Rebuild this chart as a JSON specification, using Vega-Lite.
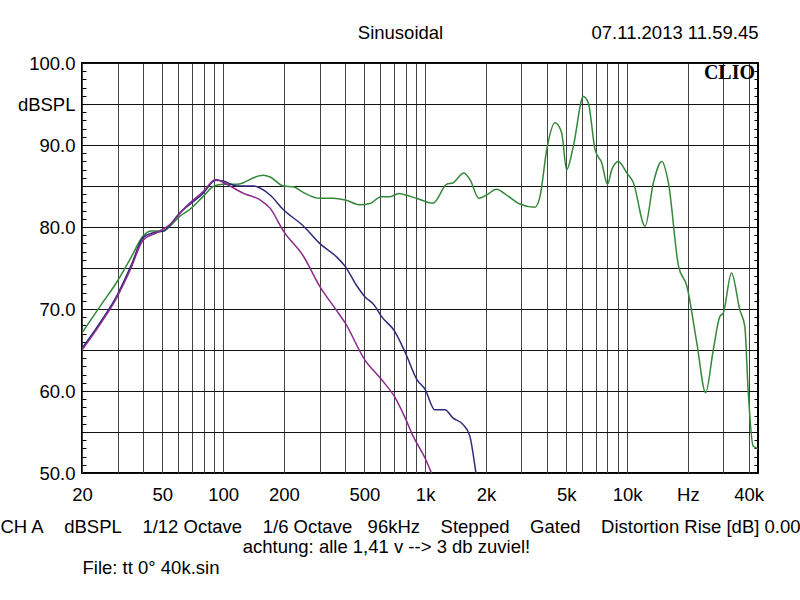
{
  "$schema": "https://vega.github.io/schema/vega-lite/v6.json",
  "width": 676,
  "height": 410,
  "autosize": "none",
  "padding": {"left": 82, "top": 63, "right": 42, "bottom": 127},
  "background": "white",
  "config": {
    "view": {"stroke": "#000", "strokeWidth": 2},
    "font": "Liberation Sans"
  },
  "layer": [
    {
      "data": {"values": [
        {"s": "g", "f": 20, "db": 67.1}, {"s": "g", "f": 25, "db": 70.6}, {"s": "g", "f": 29.6, "db": 73.2}, {"s": "g", "f": 35, "db": 76.3},
        {"s": "g", "f": 40.1, "db": 78.9}, {"s": "g", "f": 44.2, "db": 79.5}, {"s": "g", "f": 50.5, "db": 79.5}, {"s": "g", "f": 54.5, "db": 80.1},
        {"s": "g", "f": 60.9, "db": 81.3}, {"s": "g", "f": 68, "db": 82.1}, {"s": "g", "f": 79.4, "db": 83.7}, {"s": "g", "f": 90.3, "db": 85.0},
        {"s": "g", "f": 99.8, "db": 85.2}, {"s": "g", "f": 116.9, "db": 85.2}, {"s": "g", "f": 126.1, "db": 85.4}, {"s": "g", "f": 141.3, "db": 86.0},
        {"s": "g", "f": 158, "db": 86.3}, {"s": "g", "f": 170.7, "db": 86.1}, {"s": "g", "f": 198.9, "db": 85.0}, {"s": "g", "f": 222.7, "db": 84.9},
        {"s": "g", "f": 250.2, "db": 84.2}, {"s": "g", "f": 300.3, "db": 83.5}, {"s": "g", "f": 349.1, "db": 83.5}, {"s": "g", "f": 401.8, "db": 83.3},
        {"s": "g", "f": 477.2, "db": 82.7}, {"s": "g", "f": 537.3, "db": 82.9}, {"s": "g", "f": 605, "db": 83.7}, {"s": "g", "f": 671.5, "db": 83.7},
        {"s": "g", "f": 740.9, "db": 84.1}, {"s": "g", "f": 800, "db": 83.9}, {"s": "g", "f": 906, "db": 83.5}, {"s": "g", "f": 1096, "db": 82.9},
        {"s": "g", "f": 1276, "db": 85.2}, {"s": "g", "f": 1377, "db": 85.4}, {"s": "g", "f": 1555, "db": 86.6}, {"s": "g", "f": 1666, "db": 85.8},
        {"s": "g", "f": 1847, "db": 83.5}, {"s": "g", "f": 2014, "db": 83.9}, {"s": "g", "f": 2258, "db": 84.6}, {"s": "g", "f": 2531, "db": 83.9},
        {"s": "g", "f": 2947, "db": 82.8}, {"s": "g", "f": 3495, "db": 82.4}, {"s": "g", "f": 3706, "db": 83.7}, {"s": "g", "f": 4000, "db": 89.4},
        {"s": "g", "f": 4393, "db": 92.7}, {"s": "g", "f": 4742, "db": 91.5}, {"s": "g", "f": 5022, "db": 87.0}, {"s": "g", "f": 5416, "db": 89.8},
        {"s": "g", "f": 6078, "db": 95.9}, {"s": "g", "f": 6434, "db": 95.1}, {"s": "g", "f": 6946, "db": 89.4}, {"s": "g", "f": 7495, "db": 87.8},
        {"s": "g", "f": 8000, "db": 85.2}, {"s": "g", "f": 8402, "db": 87.0}, {"s": "g", "f": 9061, "db": 88.0}, {"s": "g", "f": 9965, "db": 86.6},
        {"s": "g", "f": 10749, "db": 85.4}, {"s": "g", "f": 12279, "db": 80.1}, {"s": "g", "f": 13500, "db": 85.4}, {"s": "g", "f": 14850, "db": 88.0},
        {"s": "g", "f": 16020, "db": 85.4}, {"s": "g", "f": 17990, "db": 75.2}, {"s": "g", "f": 19770, "db": 72.8}, {"s": "g", "f": 22140, "db": 65.9},
        {"s": "g", "f": 24500, "db": 59.8}, {"s": "g", "f": 26720, "db": 65.0}, {"s": "g", "f": 28830, "db": 69.1}, {"s": "g", "f": 29940, "db": 69.5},
        {"s": "g", "f": 32900, "db": 74.4}, {"s": "g", "f": 36160, "db": 69.9}, {"s": "g", "f": 38270, "db": 67.9}, {"s": "g", "f": 39750, "db": 60.2},
        {"s": "g", "f": 42070, "db": 53.3}, {"s": "g", "f": 44500, "db": 53.0},

        {"s": "n", "f": 20, "db": 65.2}, {"s": "n", "f": 25, "db": 68.6}, {"s": "n", "f": 29.6, "db": 71.5}, {"s": "n", "f": 35, "db": 75.3},
        {"s": "n", "f": 40.1, "db": 78.7}, {"s": "n", "f": 45, "db": 79.3}, {"s": "n", "f": 50.5, "db": 79.5}, {"s": "n", "f": 60.9, "db": 81.7},
        {"s": "n", "f": 79.4, "db": 84.1}, {"s": "n", "f": 92, "db": 85.7}, {"s": "n", "f": 99.8, "db": 85.6}, {"s": "n", "f": 116.9, "db": 85.0},
        {"s": "n", "f": 141.3, "db": 85.0}, {"s": "n", "f": 170.7, "db": 83.9}, {"s": "n", "f": 198.9, "db": 82.1}, {"s": "n", "f": 250.2, "db": 80.1},
        {"s": "n", "f": 300.3, "db": 78.0}, {"s": "n", "f": 362.5, "db": 76.4}, {"s": "n", "f": 401.8, "db": 75.2}, {"s": "n", "f": 459.5, "db": 72.8},
        {"s": "n", "f": 502.8, "db": 71.5}, {"s": "n", "f": 558.6, "db": 70.5}, {"s": "n", "f": 607.6, "db": 69.1}, {"s": "n", "f": 705.7, "db": 67.3},
        {"s": "n", "f": 800.4, "db": 64.6}, {"s": "n", "f": 910.9, "db": 61.4}, {"s": "n", "f": 1000, "db": 60.2}, {"s": "n", "f": 1117, "db": 57.7},
        {"s": "n", "f": 1252, "db": 57.7}, {"s": "n", "f": 1377, "db": 56.7}, {"s": "n", "f": 1543, "db": 55.9}, {"s": "n", "f": 1665, "db": 54.5},
        {"s": "n", "f": 1785, "db": 50.0}, {"s": "n", "f": 1810, "db": 49.0},

        {"s": "p", "f": 20, "db": 65.0}, {"s": "p", "f": 25, "db": 68.4}, {"s": "p", "f": 29.6, "db": 71.3}, {"s": "p", "f": 35, "db": 75.0},
        {"s": "p", "f": 40.1, "db": 78.4}, {"s": "p", "f": 46.8, "db": 79.3}, {"s": "p", "f": 54.5, "db": 80.3}, {"s": "p", "f": 65.5, "db": 82.5},
        {"s": "p", "f": 79.4, "db": 84.3}, {"s": "p", "f": 92, "db": 85.8}, {"s": "p", "f": 104.4, "db": 85.2}, {"s": "p", "f": 126.1, "db": 84.1},
        {"s": "p", "f": 152.3, "db": 83.3}, {"s": "p", "f": 170.7, "db": 82.3}, {"s": "p", "f": 198.9, "db": 79.5}, {"s": "p", "f": 250.2, "db": 76.4},
        {"s": "p", "f": 300.3, "db": 72.8}, {"s": "p", "f": 362.5, "db": 69.9}, {"s": "p", "f": 401.8, "db": 68.3}, {"s": "p", "f": 502.8, "db": 63.8},
        {"s": "p", "f": 607.6, "db": 61.4}, {"s": "p", "f": 705.7, "db": 59.3}, {"s": "p", "f": 800.4, "db": 56.6}, {"s": "p", "f": 872, "db": 54.5},
        {"s": "p", "f": 1000, "db": 51.8}, {"s": "p", "f": 1075, "db": 50.0}, {"s": "p", "f": 1100, "db": 49.4}
      ]},
      "mark": {"type": "line", "interpolate": "monotone", "strokeWidth": 1.5, "clip": true},
      "encoding": {
        "x": {
          "field": "f", "type": "quantitative",
          "scale": {"type": "log", "domain": [20, 44500], "nice": false},
          "axis": {
            "orient": "bottom",
            "values": [20, 30, 40, 50, 60, 70, 80, 90, 100, 200, 300, 400, 500, 600, 700, 800, 900, 1000, 2000, 3000, 4000, 5000, 6000, 7000, 8000, 9000, 10000, 20000, 30000, 40000],
            "labelExpr": "datum.value==20?'20':datum.value==50?'50':datum.value==100?'100':datum.value==200?'200':datum.value==500?'500':datum.value==1000?'1k':datum.value==2000?'2k':datum.value==5000?'5k':datum.value==10000?'10k':datum.value==20000?'Hz':datum.value==40000?'40k':''",
            "labelFontSize": 18.5, "labelColor": "#000", "labelBaseline": "alphabetic", "labelPadding": 27,
            "labelOverlap": false, "labelFlush": false,
            "ticks": false, "domain": false,
            "grid": true, "gridColor": "#444", "gridWidth": 1,
            "title": "CH A\u00a0\u00a0\u00a0 dBSPL\u00a0\u00a0\u00a0 1/12 Octave\u00a0\u00a0\u00a0 1/6 Octave\u00a0\u00a0 96kHz\u00a0\u00a0\u00a0 Stepped\u00a0\u00a0\u00a0 Gated\u00a0\u00a0\u00a0 Distortion Rise [dB] 0.00",
            "titleX": 318, "titleY": 59, "titleAlign": "center", "titleBaseline": "alphabetic",
            "titleFontSize": 18.5, "titleFontWeight": "normal", "titleColor": "#000"
          }
        },
        "y": {
          "field": "db", "type": "quantitative",
          "scale": {"domain": [50, 100], "nice": false, "zero": false},
          "axis": {
            "orient": "left",
            "values": [50, 51, 52, 53, 54, 55, 56, 57, 58, 59, 60, 61, 62, 63, 64, 65, 66, 67, 68, 69, 70, 71, 72, 73, 74, 75, 76, 77, 78, 79, 80, 81, 82, 83, 84, 85, 86, 87, 88, 89, 90, 91, 92, 93, 94, 95, 96, 97, 98, 99, 100],
            "labelExpr": "datum.value==95?'dBSPL':(datum.value%10==0?format(datum.value,'.1f'):'')",
            "labelFontSize": 18.5, "labelColor": "#000", "labelPadding": 11,
            "labelOverlap": false, "labelFlush": false,
            "tickSize": -4, "tickColor": "#000", "tickWidth": 1,
            "domain": false,
            "grid": true, "gridColor": "#111", "gridWidth": 1,
            "gridOpacity": {"condition": {"test": "datum.value % 5 == 0", "value": 1}, "value": 0},
            "title": "File: tt 0° 40k.sin",
            "titleAngle": 0, "titleX": 0, "titleY": 510, "titleAlign": "left", "titleBaseline": "alphabetic",
            "titleFontSize": 18.5, "titleFontWeight": "normal", "titleColor": "#000"
          }
        },
        "color": {
          "field": "s", "type": "nominal",
          "scale": {"domain": ["g", "n", "p"], "range": ["#35883a", "#2b2b7c", "#8a2a8c"]},
          "legend": null
        }
      }
    },
    {
      "data": {"values": [{"label": "CLIO", "f": 44500, "db": 100}]},
      "mark": {"type": "text", "align": "right", "baseline": "alphabetic", "dx": -3, "dy": 16, "font": "Liberation Serif", "fontWeight": "bold", "fontSize": 20, "color": "#000"},
      "encoding": {
        "x": {
          "field": "f", "type": "quantitative",
          "scale": {"type": "log", "domain": [20, 44500], "nice": false},
          "axis": {
            "orient": "top",
            "values": [44500],
            "labelExpr": "'07.11.2013 11.59.45'",
            "labelAlign": "right", "labelBaseline": "alphabetic", "labelPadding": 25,
            "labelFontSize": 18.5, "labelColor": "#000", "labelFlush": false, "labelOverlap": false,
            "ticks": false, "domain": false, "grid": false,
            "title": "Sinusoidal",
            "titleX": 318, "titleY": -25, "titleAlign": "center", "titleBaseline": "alphabetic",
            "titleFontSize": 18.5, "titleFontWeight": "normal", "titleColor": "#000"
          }
        },
        "y": {
          "field": "db", "type": "quantitative",
          "scale": {"domain": [50, 100], "nice": false, "zero": false},
          "axis": {
            "orient": "right",
            "values": [50, 51, 52, 53, 54, 55, 56, 57, 58, 59, 60, 61, 62, 63, 64, 65, 66, 67, 68, 69, 70, 71, 72, 73, 74, 75, 76, 77, 78, 79, 80, 81, 82, 83, 84, 85, 86, 87, 88, 89, 90, 91, 92, 93, 94, 95, 96, 97, 98, 99, 100],
            "labels": false,
            "tickSize": -4, "tickColor": "#000", "tickWidth": 1,
            "domain": false, "grid": false,
            "title": "achtung: alle 1,41 v --> 3 db zuviel!",
            "titleAngle": 0, "titleX": -372, "titleY": 489, "titleAlign": "center", "titleBaseline": "alphabetic",
            "titleFontSize": 18.5, "titleFontWeight": "normal", "titleColor": "#000"
          }
        },
        "text": {"field": "label"}
      }
    }
  ],
  "resolve": {"axis": {"x": "independent", "y": "independent"}}
}
